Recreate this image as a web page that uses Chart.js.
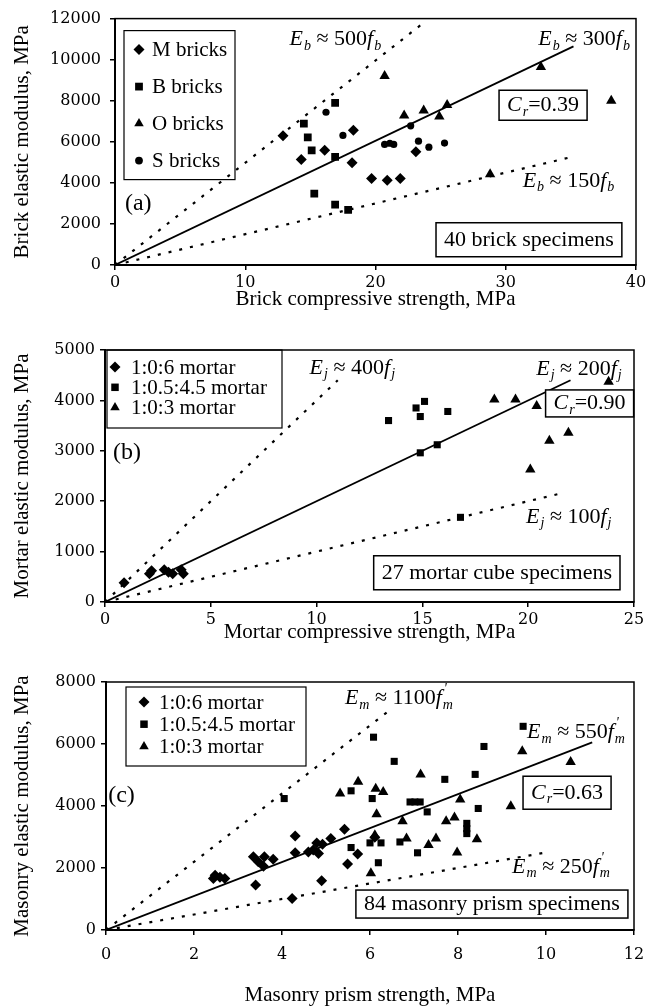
<!DOCTYPE html>
<html lang="en">

<head>
    <meta charset="UTF-8">
    <title>Elastic modulus vs compressive strength</title>
    <script src="https://cdn.jsdelivr.net/npm/chart.js"></script>
    <style>
        body { margin: 0; background: #fff; overflow: hidden; }
        .painel { position: absolute; left: 0; width: 668px; }
    </style>
</head>

<body>
    <div class="painel" style="top:0;height:312px"><canvas id="chartA"></canvas></div>
    <div class="painel" style="top:312px;height:333px"><canvas id="chartB"></canvas></div>
    <div class="painel" style="top:645px;height:363px"><canvas id="chartC"></canvas></div>

<script>
// ---- (a) bricks: [compressive strength MPa, elastic modulus MPa]
const brickSeries = ['M bricks', 'B bricks', 'O bricks', 'S bricks'];
const brickM = [[12.9, 6300], [14.3, 5140], [16.1, 5590], [18.3, 6560], [18.2, 4980], [19.7, 4210], [20.9, 4130], [21.9, 4210], [23.1, 5510]];
const brickB = [[16.9, 7900], [14.5, 6880], [14.8, 6220], [15.1, 5580], [16.9, 5270], [15.3, 3480], [16.9, 2940], [17.9, 2680]];
const brickO = [[20.7, 9210], [22.2, 7280], [23.7, 7520], [24.9, 7230], [25.5, 7790], [32.7, 9640], [38.1, 8000], [28.8, 4420]];
const brickS = [[16.2, 7440], [17.5, 6310], [20.7, 5870], [21.1, 5930], [21.4, 5870], [22.7, 6780], [23.3, 6030], [24.1, 5740], [25.3, 5940]];
const brickUpper = [[0, 0], [23.5, 11700]];
const brickFit = [[0, 0], [35.2, 10650]];
const brickLower = [[0, 0], [35, 5250]];
const brickXTicks = [0, 10, 20, 30, 40];
const brickYTicks = [0, 2000, 4000, 6000, 8000, 10000, 12000];

// ---- (b) mortar cubes
const mortarSeries = ['1:0:6 mortar', '1:0.5:4.5 mortar', '1:0:3 mortar'];
const mortar6 = [[0.9, 380], [2.1, 560], [2.2, 620], [2.8, 640], [3.0, 590], [3.2, 560], [3.6, 640], [3.7, 560]];
const mortar45 = [[13.4, 3600], [14.7, 3850], [15.1, 3980], [14.9, 3680], [16.2, 3780], [14.9, 2960], [15.7, 3120], [16.8, 1680]];
const mortar3 = [[18.4, 4020], [19.4, 4020], [20.4, 3890], [23.8, 4370], [21.0, 3200], [21.9, 3360], [20.1, 2630]];
const mortarUpper = [[0, 0], [11, 4400]];
const mortarFit = [[0, 0], [22, 4400]];
const mortarLower = [[0, 0], [21.7, 2170]];
const mortarXTicks = [0, 5, 10, 15, 20, 25];
const mortarYTicks = [0, 1000, 2000, 3000, 4000, 5000];

// ---- (c) masonry prisms
const prism6 = [[2.44, 1660], [2.48, 1770], [2.59, 1700], [2.70, 1660], [3.35, 2360], [3.46, 2200], [3.60, 2360], [3.58, 2060], [3.80, 2280], [3.40, 1450],
    [4.30, 3030], [4.30, 2490], [4.23, 1020], [4.60, 2520], [4.71, 2580], [4.83, 2470], [4.79, 2810], [4.92, 2770], [5.11, 2950], [5.42, 3250],
    [4.90, 1590], [5.72, 2450], [5.49, 2130], [6.11, 2990]];
const prism45 = [[4.05, 4240], [5.57, 4490], [6.05, 4240], [5.57, 2660], [6.0, 2810], [6.19, 2170], [6.25, 2810], [6.08, 6220], [9.48, 6570], [8.59, 5920],
    [6.55, 5440], [8.39, 5020], [7.70, 4860], [6.91, 4130], [7.02, 4130], [7.14, 4130], [7.30, 3810], [8.46, 3920], [8.20, 3440], [8.20, 3270],
    [8.20, 3110], [6.68, 2840], [7.08, 2490]];
const prism3 = [[5.32, 4400], [5.73, 4780], [6.13, 4560], [6.30, 4450], [6.15, 3735], [6.02, 1830], [9.46, 5770], [10.56, 5420], [7.15, 5020], [8.05, 4210],
    [9.20, 3990], [6.74, 3510], [7.73, 3510], [7.92, 3630], [6.11, 3060], [6.83, 2950], [7.50, 2950], [7.33, 2740], [8.43, 2930], [7.98, 2500]];
const prismUpper = [[0, 0], [6.5, 7150]];
const prismFit = [[0, 0], [11.05, 6050]];
const prismLower = [[0, 0], [10, 2500]];
const prismXTicks = [0, 2, 4, 6, 8, 10, 12];
const prismYTicks = [0, 2000, 4000, 6000, 8000];

const serif = '"Liberation Serif", "Times New Roman", serif';
const tickFont = { family: '"DejaVu Serif", serif', size: 16 };

Chart.defaults.color = '#000';
Chart.defaults.animation = false;
Chart.defaults.font.family = serif;

// pieces of rich text: r = roman, i = italic, sub = italic subscript, ss = subscript with prime above
function fontOf(kind, size) {
    var small = (kind === 'sub' || kind === 'ss') ? Math.round(size * 0.62) : size;
    return (kind === 'r' ? '' : 'italic ') + small + 'px ' + serif;
}

function pieceWidth(ctx, p, size) {
    ctx.font = fontOf(p[1], size);
    var w = ctx.measureText(p[0]).width;
    if (p[1] === 'ss') w = Math.max(w, ctx.measureText(p[2]).width);
    return w;
}

function drawNote(chart, n) {
    const ctx = chart.ctx;
    const size = n.size || 22;
    let x = chart.scales.x.getPixelForValue(n.x);
    const y = chart.scales.y.getPixelForValue(n.y);
    let total = 0;
    n.parts.forEach(p => { total += pieceWidth(ctx, p, size) + (p[1] === 'i' ? 1 : 0); });
    if (n.align === 'right') x -= total;
    if (n.box) {
        const pad = 8, h = n.h || 30;
        ctx.lineWidth = 1.5;
        ctx.strokeStyle = '#000';
        ctx.fillStyle = '#fff';
        ctx.fillRect(x - pad, y - h / 2, total + pad * 2, h);
        ctx.strokeRect(x - pad, y - h / 2, total + pad * 2, h);
    }
    ctx.fillStyle = '#000';
    ctx.textBaseline = 'middle';
    ctx.textAlign = 'left';
    n.parts.forEach(p => {
        ctx.font = fontOf(p[1], size);
        if (p[1] === 'sub' || p[1] === 'ss') {
            ctx.fillText(p[0], x, y + size * 0.3);
            if (p[1] === 'ss') ctx.fillText(p[2], x + 1, y - size * 0.4);
        } else {
            ctx.fillText(p[0], x, y);
        }
        x += pieceWidth(ctx, p, size) + (p[1] === 'i' ? 1 : 0);
    });
}

function marcador(ctx, style, r, x, y) {
    ctx.beginPath();
    if (style === 'rectRot') {
        ctx.moveTo(x, y - r); ctx.lineTo(x + r, y); ctx.lineTo(x, y + r); ctx.lineTo(x - r, y);
    } else if (style === 'rect') {
        const s = r * Math.SQRT1_2;
        ctx.rect(x - s, y - s, 2 * s, 2 * s);
    } else if (style === 'triangle') {
        ctx.moveTo(x, y - r);
        ctx.lineTo(x + r * 0.866, y + r / 2);
        ctx.lineTo(x - r * 0.866, y + r / 2);
    } else {
        ctx.arc(x, y, r, 0, Math.PI * 2);
    }
    ctx.closePath();
    ctx.fill();
}

// frame, legend (markers + names of the series datasets) and the text notes
const moldura = {
    id: 'moldura',
    afterDraw(chart, args, opts) {
        const ctx = chart.ctx;
        const ca = chart.chartArea;
        ctx.save();
        ctx.strokeStyle = '#000';
        ctx.lineWidth = 1.5;
        ctx.strokeRect(ca.left, ca.top, ca.right - ca.left, ca.bottom - ca.top);

        const lg = opts.legend;
        if (lg) {
            const b = lg.box;
            ctx.lineWidth = 1.2;
            ctx.strokeRect(ca.left + b[0], ca.top + b[1], b[2] - b[0], b[3] - b[1]);
            ctx.fillStyle = '#000';
            ctx.textBaseline = 'middle';
            ctx.textAlign = 'left';
            ctx.font = lg.size + 'px ' + serif;
            chart.data.datasets.forEach((ds, i) => {
                if (!ds.label) return;
                const x = ca.left + lg.at[0];
                const y = ca.top + lg.at[1] + i * lg.step;
                marcador(ctx, ds.pointStyle, Math.min(ds.pointRadius + 0.3, 5.5), x, y);
                ctx.fillText(ds.label, x + lg.textDx, y + 1);
            });
        }
        (opts.notes || []).forEach(n => drawNote(chart, n));
        ctx.restore();
    }
};

function marca(label, data, style, radius) {
    return {
        label: label, data: data, pointStyle: style, pointRadius: radius, pointHoverRadius: radius,
        backgroundColor: '#000', borderColor: '#000', borderWidth: 0, showLine: false
    };
}

function reta(data, dashed) {
    return {
        label: '', data: data, showLine: true, pointRadius: 0, pointHoverRadius: 0, borderColor: '#000',
        borderWidth: dashed ? 2.2 : 1.8, borderDash: dashed ? [3, 8] : [], fill: false
    };
}

function painel(id, p) {
    const datasets = p.series.map((nome, i) => marca(nome, p.points[i], p.styles[i], p.radii[i]));
    p.lines.forEach((l, i) => datasets.push(reta(l, i !== 1)));
    return new Chart(document.getElementById(id), {
        type: 'scatter',
        data: { datasets: datasets },
        options: {
            responsive: true,
            maintainAspectRatio: false,
            layout: { padding: p.pad },
            scales: {
                x: {
                    type: 'linear',
                    min: p.xTicks[0],
                    max: p.xTicks[p.xTicks.length - 1],
                    afterBuildTicks: a => { a.ticks = p.xTicks.map(v => ({ value: v })); },
                    afterFit: a => { a.height = p.xH; },
                    ticks: { font: tickFont, padding: p.xTickPad, maxRotation: 0, autoSkip: false, callback: v => String(v) },
                    grid: { drawOnChartArea: false, tickLength: 5, color: '#000', lineWidth: 1.5 },
                    border: { color: '#000', width: 2 },
                    title: { display: true, text: p.xTitle, font: { family: serif, size: 21 }, padding: { top: 0, bottom: p.xTitlePad } }
                },
                y: {
                    type: 'linear',
                    min: p.yTicks[0],
                    max: p.yTicks[p.yTicks.length - 1],
                    afterBuildTicks: a => { a.ticks = p.yTicks.map(v => ({ value: v })); },
                    afterFit: a => { a.width = p.yW; },
                    ticks: { font: tickFont, padding: p.yTickPad, autoSkip: false, callback: v => String(v) },
                    grid: { drawOnChartArea: false, tickLength: 5, color: '#000', lineWidth: 1.5 },
                    border: { color: '#000', width: 2 },
                    title: { display: true, text: p.yTitle, font: { family: serif, size: 21 }, padding: { top: 10, bottom: 0 } }
                }
            },
            plugins: {
                legend: { display: false },
                tooltip: { enabled: false },
                moldura: { legend: p.legend, notes: p.notes }
            }
        },
        plugins: [moldura]
    });
}

const approx = n => [' \u2248 ' + n, 'r'];

painel('chartA', {
    series: brickSeries,
    points: [brickM, brickB, brickO, brickS],
    styles: ['rectRot', 'rect', 'triangle', 'circle'],
    radii: [5.5, 5.5, 6, 3.6],
    lines: [brickUpper, brickFit, brickLower],
    xTicks: brickXTicks, yTicks: brickYTicks,
    xTitle: 'Brick compressive strength, MPa', yTitle: 'Brick elastic modulus, MPa',
    pad: { top: 16, right: 32, left: 0, bottom: 0 }, yW: 115, xH: 47, xTickPad: 3, yTickPad: 9, xTitlePad: 0,
    legend: { at: [24, 31], step: 37, textDx: 13, size: 21, box: [9, 12, 120, 161] },
    notes: [
        { x: 13.4, y: 10990, parts: [['E', 'i'], ['b', 'sub'], approx('500'), ['f', 'i'], ['b', 'sub']] },
        { x: 32.5, y: 10990, parts: [['E', 'i'], ['b', 'sub'], approx('300'), ['f', 'i'], ['b', 'sub']] },
        { x: 31.3, y: 4100, parts: [['E', 'i'], ['b', 'sub'], approx('150'), ['f', 'i'], ['b', 'sub']] },
        { x: 30.1, y: 7780, box: true, parts: [['C', 'i'], ['r', 'sub'], ['=0.39', 'r']] },
        { x: 38.3, y: 1230, align: 'right', box: true, h: 34, parts: [['40 brick specimens', 'r']] },
        { x: 0.76, y: 2990, size: 24, parts: [['(a)', 'r']] }
    ]
});

painel('chartB', {
    series: mortarSeries,
    points: [mortar6, mortar45, mortar3],
    styles: ['rectRot', 'rect', 'triangle'],
    radii: [5.5, 5, 6],
    lines: [mortarUpper, mortarFit, mortarLower],
    xTicks: mortarXTicks, yTicks: mortarYTicks,
    xTitle: 'Mortar compressive strength, MPa', yTitle: 'Mortar elastic modulus, MPa',
    pad: { top: 38, right: 34, left: 0, bottom: 0 }, yW: 105, xH: 43, xTickPad: 3, yTickPad: 5, xTitlePad: 0,
    legend: { at: [10, 17], step: 20.3, textDx: 16, size: 21, box: [2, 0, 177, 78] },
    notes: [
        { x: 9.67, y: 4646, parts: [['E', 'i'], ['j', 'sub'], approx('400'), ['f', 'i'], ['j', 'sub']] },
        { x: 20.38, y: 4626, parts: [['E', 'i'], ['j', 'sub'], approx('200'), ['f', 'i'], ['j', 'sub']] },
        { x: 19.9, y: 1684, parts: [['E', 'i'], ['j', 'sub'], approx('100'), ['f', 'i'], ['j', 'sub']] },
        { x: 21.2, y: 3940, box: true, h: 27, parts: [['C', 'i'], ['r', 'sub'], ['=0.90', 'r']] },
        { x: 23.96, y: 580, align: 'right', box: true, h: 34, parts: [['27 mortar cube specimens', 'r']] },
        { x: 0.38, y: 2956, size: 24, parts: [['(b)', 'r']] }
    ]
});

painel('chartC', {
    series: mortarSeries,
    points: [prism6, prism45, prism3],
    styles: ['rectRot', 'rect', 'triangle'],
    radii: [5.5, 5, 6],
    lines: [prismUpper, prismFit, prismLower],
    xTicks: prismXTicks, yTicks: prismYTicks,
    xTitle: 'Masonry prism strength, MPa', yTitle: 'Masonry elastic modulus, MPa',
    pad: { top: 37, right: 34, left: 0, bottom: 0 }, yW: 106, xH: 78, xTickPad: 10, yTickPad: 5, xTitlePad: 0,
    legend: { at: [38, 20], step: 22.2, textDx: 15, size: 21, box: [20, 5, 200, 84] },
    notes: [
        { x: 5.43, y: 7470, parts: [['E', 'i'], ['m', 'sub'], approx('1100'), ['f', 'i'], ['m', 'ss', "'"]] },
        { x: 9.57, y: 6376, parts: [['E', 'i'], ['m', 'sub'], approx('550'), ['f', 'i'], ['m', 'ss', "'"]] },
        { x: 9.23, y: 2029, parts: [['E', 'i'], ['m', 'sub'], approx('250'), ['f', 'i'], ['m', 'ss', "'"]] },
        { x: 9.66, y: 4428, box: true, h: 33, parts: [['C', 'i'], ['r', 'sub'], ['=0.63', 'r']] },
        { x: 11.68, y: 837, align: 'right', box: true, h: 28, parts: [['84 masonry prism specimens', 'r']] },
        { x: 0.05, y: 4347, size: 24, parts: [['(c)', 'r']] }
    ]
});
</script>
</body>

</html>
